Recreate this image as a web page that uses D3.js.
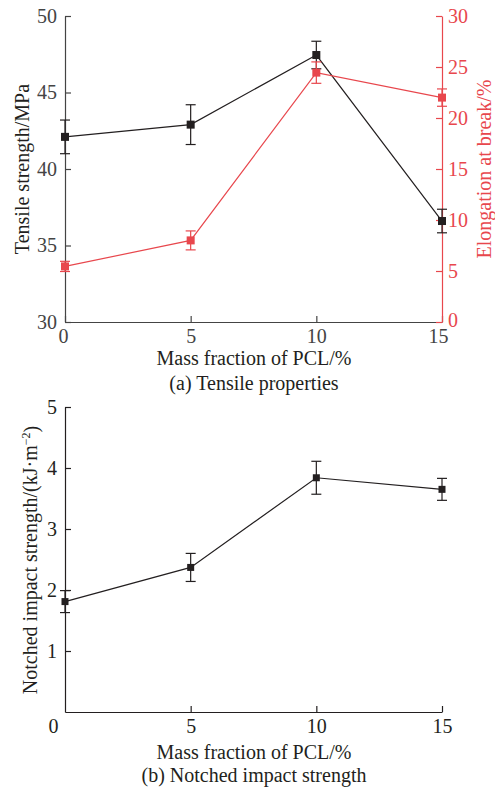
<!DOCTYPE html>
<html>
<head>
<meta charset="utf-8">
<script src="https://cdn.jsdelivr.net/npm/d3@7"></script>
<style>
  body { margin: 0; background: #fff; }
  svg text { font-family: "Liberation Serif", "Times New Roman", "DejaVu Serif", serif; }
</style>
</head>
<body>
<div id="chart"></div>
<script>
// PCL mass fraction (x values)
const pclFraction = [0, 5, 10, 15];

// (a) tensile properties
const tensileStrength = [42.1, 42.9, 47.45, 36.6];
const tensileErr = [1.1, 1.3, 0.9, 0.77];
const elongation = [5.45, 8.0, 24.45, 22.0];
const elongationErr = [0.5, 0.93, 1.05, 0.85];

// (b) notched impact
const impactStrength = [1.81, 2.37, 3.84, 3.65];
const impactErr = [0.18, 0.23, 0.27, 0.18];

const xTicks = [0, 5, 10, 15];
const tensileTicks = [30, 35, 40, 45, 50];
const elongTicks = [0, 5, 10, 15, 20, 25, 30];
const impactTicks = [1, 2, 3, 4, 5];

const black = '#231f20';
const red = '#e8474d';
const fs = 20;
const serif = '"Liberation Serif", "Times New Roman", serif';

const svg = d3.select('#chart').append('svg')
  .attr('width', 495)
  .attr('height', 788)
  .style('font-family', serif);

const x = d3.scaleLinear().domain([0, 15]).range([65, 442]);

// helper to draw series with error bars
function drawSeries(g, xs, ys, errs, y, color, size) {
  const pts = xs.map((d, i) => ({ x: d, y: ys[i], e: errs[i] }));
  g.append('path')
    .datum(pts)
    .attr('fill', 'none')
    .attr('stroke', color)
    .attr('stroke-width', 1.2)
    .attr('d', d3.line().x(d => x(d.x)).y(d => y(d.y)));

  const eb = g.selectAll(null).data(pts).enter().append('g')
    .attr('stroke', color)
    .attr('stroke-width', 1.2);
  eb.append('line')
    .attr('x1', d => x(d.x)).attr('x2', d => x(d.x))
    .attr('y1', d => y(d.y - d.e)).attr('y2', d => y(d.y + d.e));
  eb.append('line')
    .attr('x1', d => x(d.x) - 5).attr('x2', d => x(d.x) + 5)
    .attr('y1', d => y(d.y + d.e)).attr('y2', d => y(d.y + d.e));
  eb.append('line')
    .attr('x1', d => x(d.x) - 5).attr('x2', d => x(d.x) + 5)
    .attr('y1', d => y(d.y - d.e)).attr('y2', d => y(d.y - d.e));

  g.selectAll(null).data(pts).enter().append('rect')
    .attr('x', d => x(d.x) - size / 2)
    .attr('y', d => y(d.y) - size / 2)
    .attr('width', size)
    .attr('height', size)
    .attr('fill', color);
}

function styleAxis(g, color) {
  g.attr('font-family', null).attr('font-size', null);
  g.select('.domain').attr('stroke', color).attr('stroke-width', 1.2);
  g.selectAll('.tick line').attr('stroke', color).attr('stroke-width', 1.2);
  g.selectAll('.tick text')
    .attr('fill', color)
    .style('font-size', fs + 'px')
    .style('font-family', serif);
}

function label(g, text, tx, ty, rot, color) {
  return g.append('text')
    .attr('transform', `translate(${tx},${ty})` + (rot ? ' rotate(-90)' : ''))
    .attr('text-anchor', 'middle')
    .attr('dy', '0.35em')
    .style('font-size', fs + 'px')
    .attr('fill', color)
    .text(text);
}

// ---------- (a) Tensile properties ----------
const yT = d3.scaleLinear().domain([30, 50]).range([322, 16]);
const yE = d3.scaleLinear().domain([0, 30]).range([322, 16]);
const panelA = svg.append('g');

const xAxA = panelA.append('g')
  .attr('transform', 'translate(0,322)')
  .call(d3.axisBottom(x).tickValues(xTicks).tickSizeInner(-6).tickSizeOuter(0).tickPadding(4));
styleAxis(xAxA, '#444');
xAxA.selectAll('.tick text').attr('dy', '0.85em');
// end labels sit slightly inside, clear of the right axis "0"
xAxA.selectAll('.tick').filter(d => d === 15).select('text').attr('dx', -4);
xAxA.selectAll('.tick').filter(d => d === 0).select('text').attr('dx', -2);

const yAxL = panelA.append('g')
  .attr('transform', 'translate(65,0)')
  .call(d3.axisLeft(yT).tickValues(tensileTicks).tickFormat(d3.format('d'))
    .tickSizeInner(-6).tickSizeOuter(0).tickPadding(8));
styleAxis(yAxL, '#444');

const yAxR = panelA.append('g')
  .attr('transform', 'translate(442,0)')
  .call(d3.axisRight(yE).tickValues(elongTicks).tickFormat(d3.format('d'))
    .tickSizeInner(-6).tickSizeOuter(0).tickPadding(6));
styleAxis(yAxR, red);
yAxR.selectAll('.tick').filter(d => d === 0).select('text').attr('dy', '0.2em');

drawSeries(panelA, pclFraction, tensileStrength, tensileErr, yT, black, 8);
drawSeries(panelA, pclFraction, elongation, elongationErr, yE, red, 8);

label(panelA, 'Tensile strength/MPa', 22, 169, true, black);
label(panelA, 'Elongation at break/%', 484, 169, true, red);
label(panelA, 'Mass fraction of PCL/%', 254, 358, false, black);
label(panelA, '(a) Tensile properties', 254, 383, false, black);

// ---------- (b) Notched impact strength ----------
const yI = d3.scaleLinear().domain([0, 5]).range([712, 407]);
const panelB = svg.append('g');

const xAxB = panelB.append('g')
  .attr('transform', 'translate(0,712)')
  .call(d3.axisBottom(x).tickValues(xTicks).tickSizeInner(-6).tickSizeOuter(0).tickPadding(4));
styleAxis(xAxB, black);
xAxB.selectAll('.tick text').attr('dy', '0.85em');
// the "0" label sits at the corner, left of the origin
xAxB.selectAll('.tick').filter(d => d === 0).select('text').attr('dx', -12);
xAxB.selectAll('.tick').filter(d => d === 0).select('line').remove();

const yAxB = panelB.append('g')
  .attr('transform', 'translate(65,0)')
  .call(d3.axisLeft(yI).tickValues(impactTicks).tickFormat(d3.format('d'))
    .tickSizeInner(-6).tickSizeOuter(0).tickPadding(8));
styleAxis(yAxB, black);

drawSeries(panelB, pclFraction, impactStrength, impactErr, yI, black, 7);

const yLab = label(panelB, '', 30, 560, true, black);
yLab.append('tspan').text('Notched impact strength/(kJ\u00b7m');
yLab.append('tspan').style('font-size', '12px').attr('dy', '-0.6em').text('\u22122');
yLab.append('tspan').attr('dy', '0.42em').text(')');

label(panelB, 'Mass fraction of PCL/%', 254, 752, false, black);
label(panelB, '(b) Notched impact strength', 254, 775, false, black);
</script>
</body>
</html>
